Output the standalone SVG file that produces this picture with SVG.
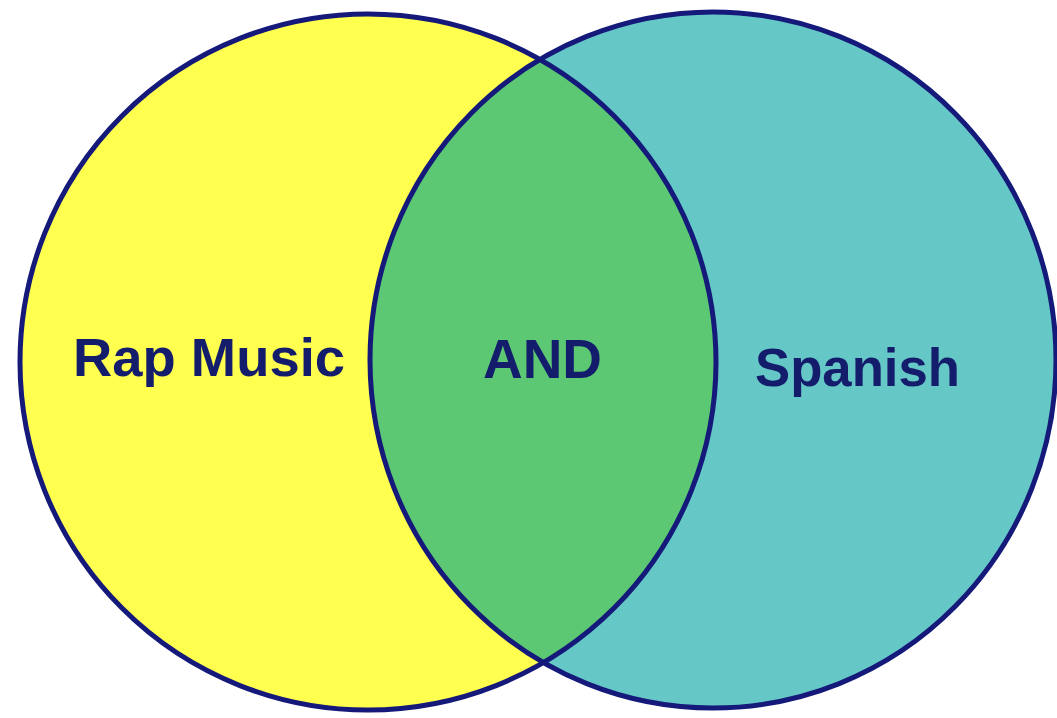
<svg xmlns="http://www.w3.org/2000/svg" width="1057" height="718" viewBox="0 0 1057 718">
  <style>
    .edge { fill: none; stroke: #14197a; stroke-width: 5; }
    .lbl { font-family: "Liberation Sans", Arial, sans-serif; font-weight: bold; fill: #141c6c; }
  </style>
  <defs>
    <clipPath id="clipLeft">
      <circle cx="368" cy="362" r="348"/>
    </clipPath>
  </defs>
  <rect width="1057" height="718" fill="#ffffff"/>
  <g id="rap-music">
    <circle cx="368" cy="362" r="348" fill="#ffff4f"/>
  </g>
  <g id="spanish">
    <ellipse cx="713" cy="360" rx="343" ry="348" fill="#66c7c7"/>
  </g>
  <g id="and">
    <ellipse cx="713" cy="360" rx="343" ry="348" fill="#5cc873" clip-path="url(#clipLeft)"/>
  </g>
  <g id="outlines">
    <circle class="edge" cx="368" cy="362" r="348"/>
    <ellipse class="edge" cx="713" cy="360" rx="343" ry="348"/>
  </g>
  <g id="labels">
    <text class="lbl" x="73" y="376" font-size="54" textLength="272" lengthAdjust="spacingAndGlyphs">Rap Music</text>
    <text class="lbl" x="483" y="378" font-size="55" textLength="119" lengthAdjust="spacingAndGlyphs">AND</text>
    <text class="lbl" x="755" y="386" font-size="53" textLength="205" lengthAdjust="spacingAndGlyphs">Spanish</text>
  </g>
</svg>
